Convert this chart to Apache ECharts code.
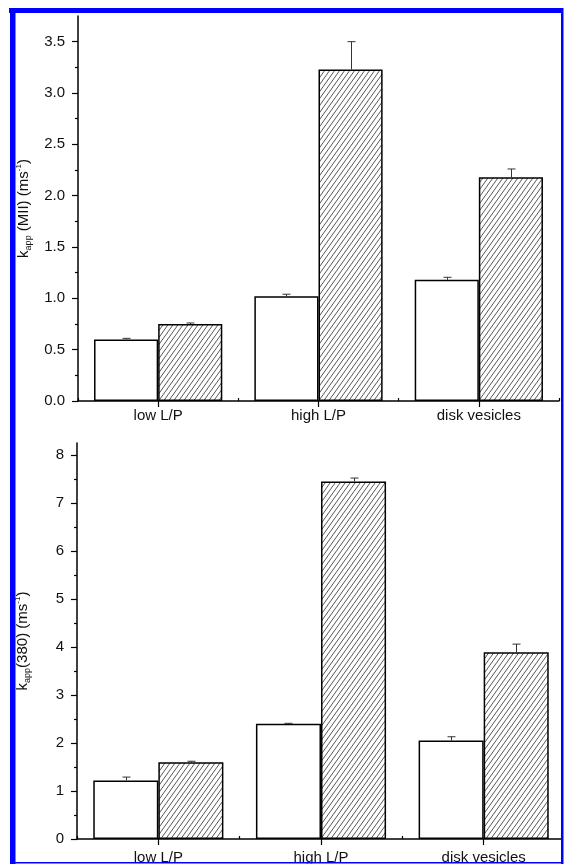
<!DOCTYPE html>
<html>
<head>
<meta charset="utf-8">
<script src="https://cdn.jsdelivr.net/npm/echarts@6/dist/echarts.min.js"></script>
<style>
html,body{margin:0;padding:0;background:#fff;}
#chart{width:565px;height:865px;}
</style>
</head>
<body>
<div id="chart"></div>
<script>
// ---- data ----
const categories = ['low L/P', 'high L/P', 'disk vesicles'];

const topWhite = [0.60, 1.02, 1.18];
const topWhiteErr = [0.01, 0.02, 0.025];
const topHatched = [0.75, 3.23, 2.18];
const topHatchedErr = [0.01, 0.27, 0.08];
const topMajorTicks = [0, 0.5, 1.0, 1.5, 2.0, 2.5, 3.0, 3.5];
const topMinorTicks = [0.25, 0.75, 1.25, 1.75, 2.25, 2.75, 3.25];

const botWhite = [1.22, 2.40, 2.05];
const botWhiteErr = [0.07, 0.01, 0.08];
const botHatched = [1.60, 7.45, 3.89];
const botHatchedErr = [0.02, 0.07, 0.17];
const botMajorTicks = [0, 1, 2, 3, 4, 5, 6, 7, 8];
const botMinorTicks = [0.5, 1.5, 2.5, 3.5, 4.5, 5.5, 6.5, 7.5];

// ---- helpers ----
const FONT = "'Liberation Sans', Arial, sans-serif";

function makeHatch() {
  const w = 5, h = 7;
  const c = document.createElement('canvas');
  c.width = w; c.height = h;
  const ctx = c.getContext('2d');
  ctx.fillStyle = '#fff';
  ctx.fillRect(0, 0, w, h);
  ctx.strokeStyle = '#444';
  ctx.lineWidth = 0.9;
  for (const dx of [-w, 0, w]) {
    ctx.beginPath();
    ctx.moveTo(dx, h);
    ctx.lineTo(dx + w, 0);
    ctx.stroke();
  }
  return c;
}
const hatch = { image: makeHatch(), repeat: 'repeat' };

function errSeries(xi, yi, vals, errs, side) {
  return {
    type: 'custom', xAxisIndex: xi, yAxisIndex: yi, z: 5, silent: true,
    data: vals.map((v, i) => [i, v, v + errs[i]]),
    renderItem(params, api) {
      const i = api.value(0);
      const catW = api.size([1, 0])[0];
      const off = side * catW * 0.2;
      const p0 = api.coord([i, api.value(1)]);
      const p1 = api.coord([i, api.value(2)]);
      const x = Math.round(p0[0] + off) + 0.5;
      const hw = 4;
      return {
        type: 'group', children: [
          { type: 'line', shape: { x1: x, y1: p0[1], x2: x, y2: p1[1] }, style: { stroke: '#333', lineWidth: 1 } },
          { type: 'line', shape: { x1: x - hw, y1: p1[1], x2: x + hw, y2: p1[1] }, style: { stroke: '#333', lineWidth: 1 } }
        ]
      };
    }
  };
}

function mainX(gi, margin) {
  return {
    type: 'category', gridIndex: gi, data: categories,
    boundaryGap: true,
    axisLine: { show: true, lineStyle: { color: '#000', width: 1.5 } },
    axisTick: { show: true, alignWithLabel: true, length: 6, lineStyle: { color: '#000', width: 1.2 } },
    axisLabel: { color: '#111', fontSize: 15, fontFamily: FONT, margin: margin },
    splitLine: { show: false }
  };
}
function boundX(gi) {
  return {
    type: 'category', gridIndex: gi, data: categories,
    boundaryGap: true,
    axisLine: { show: false },
    axisTick: { show: true, alignWithLabel: false, length: 3, lineStyle: { color: '#000', width: 1.2 } },
    axisLabel: { show: false },
    splitLine: { show: false }
  };
}
function mainY(gi, max, major, fmt, name) {
  return {
    type: 'value', gridIndex: gi, min: 0, max: max,
    axisLine: { show: true, lineStyle: { color: '#000', width: 1.5 } },
    axisTick: { show: true, length: 6, customValues: major, lineStyle: { color: '#000', width: 1.2 } },
    axisLabel: { color: '#111', fontSize: 15, fontFamily: FONT, margin: 13, customValues: major, formatter: fmt },
    splitLine: { show: false },
    name: name,
    nameLocation: 'middle',
    nameGap: 45,
    nameTextStyle: {
      color: '#111', fontSize: 15, fontFamily: FONT, lineHeight: 18,
      rich: {
        n: { fontSize: 15, fontFamily: FONT, color: '#111', lineHeight: 18 },
        sub: { fontSize: 9, fontFamily: FONT, color: '#111', lineHeight: 18, verticalAlign: 'bottom', padding: [6, 0, 0, 0] },
        sup: { fontSize: 8, fontFamily: FONT, color: '#111', lineHeight: 18, verticalAlign: 'top', padding: [0, 0, 4, 0] }
      }
    }
  };
}
function minorY(gi, max, minor) {
  return {
    type: 'value', gridIndex: gi, min: 0, max: max, position: 'left',
    axisLine: { show: false },
    axisTick: { show: true, length: 3, customValues: minor, lineStyle: { color: '#000', width: 1.2 } },
    axisLabel: { show: false },
    splitLine: { show: false }
  };
}
function barSeries(xi, yi, vals, color) {
  return {
    type: 'bar', xAxisIndex: xi, yAxisIndex: yi, data: vals,
    barGap: '0%', barCategoryGap: '20%', silent: true,
    itemStyle: { color: color, borderColor: '#000', borderWidth: 1.5 }
  };
}

const chart = echarts.init(document.getElementById('chart'), null, { renderer: 'canvas' });
chart.setOption({
  backgroundColor: '#fff',
  animation: false,
  grid: [
    { left: 78, top: 16, width: 481, height: 385 },
    { left: 77, top: 443, width: 492, height: 399 }
  ],
  xAxis: [mainX(0, 7), boundX(0), mainX(1, 11), boundX(1)],
  yAxis: [
    mainY(0, 3.75, topMajorTicks, v => v.toFixed(1), '{n|k}{sub|app}{n| (MII) (ms}{sup|-1}{n|)}'),
    minorY(0, 3.75, topMinorTicks),
    mainY(1, 8.25, botMajorTicks, v => String(v), '{n|k}{sub|app}{n|(380) (ms}{sup|-1}{n|)}'),
    minorY(1, 8.25, botMinorTicks)
  ],
  series: [
    barSeries(0, 0, topWhite, '#fff'),
    barSeries(0, 0, topHatched, hatch),
    errSeries(0, 0, topWhite, topWhiteErr, -1),
    errSeries(0, 0, topHatched, topHatchedErr, 1),
    barSeries(2, 2, botWhite, '#fff'),
    barSeries(2, 2, botHatched, hatch),
    errSeries(2, 2, botWhite, botWhiteErr, -1),
    errSeries(2, 2, botHatched, botHatchedErr, 1)
  ],
  graphic: {
    elements: [
      { type: 'rect', z: 200, shape: { x: 563, y: 0, width: 2, height: 865 }, style: { fill: '#fff' } },
      { type: 'rect', z: 200, shape: { x: 0, y: 863.5, width: 565, height: 2 }, style: { fill: '#fff' } },
      { type: 'rect', z: 210, shape: { x: 9, y: 8, width: 554, height: 5 }, style: { fill: '#0000ff' } },
      { type: 'rect', z: 210, shape: { x: 10, y: 8, width: 5.5, height: 856 }, style: { fill: '#0000ff' } },
      { type: 'rect', z: 210, shape: { x: 561, y: 8, width: 2.5, height: 856 }, style: { fill: '#0000ff' } },
      { type: 'rect', z: 210, shape: { x: 10, y: 862, width: 553, height: 1.5 }, style: { fill: '#0000ff' } }
    ]
  }
});
</script>
</body>
</html>
